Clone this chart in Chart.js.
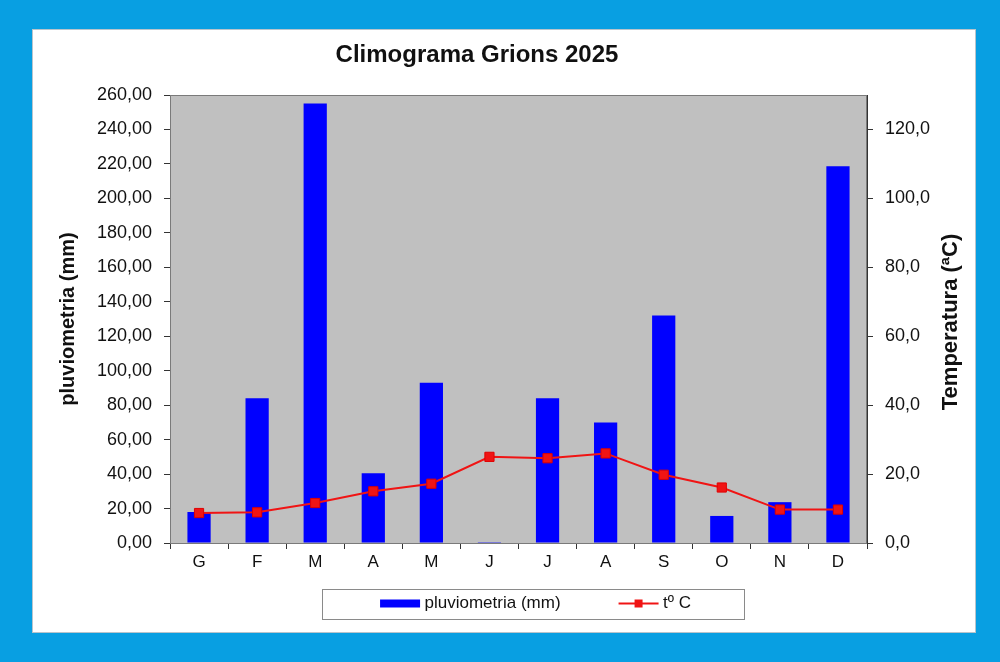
<!DOCTYPE html>
<html>
<head>
<meta charset="utf-8">
<script src="https://cdn.jsdelivr.net/npm/chart.js@4/dist/chart.umd.min.js"></script>
<style>
  html, body { margin: 0; padding: 0; }
  body { width: 1000px; height: 662px; background: #089fe2; position: relative; overflow: hidden; }
  #panel { position: absolute; left: 33px; top: 30px; width: 942px; height: 602px; background: #fff;
           box-shadow: 0 0 0 1px #b8c4cc; }
</style>
</head>
<body>
<div id="panel"><canvas id="clima"></canvas></div>
<script>
// dades
var months = ['G', 'F', 'M', 'A', 'M', 'J', 'J', 'A', 'S', 'O', 'N', 'D'];
var rain = [18.0, 84.0, 255.0, 40.5, 93.0, 0.5, 84.0, 70.0, 132.0, 15.7, 23.7, 218.7];
var temp = [8.7, 8.9, 11.6, 15.0, 17.2, 25.0, 24.6, 26.0, 19.8, 16.1, 9.7, 9.7];
var rainLabel = 'pluviometria (mm)';
var tempLabel = 'tº C';
var rightTitle = 'Temperatura (ªC)';

var FONT = '"Liberation Sans", Arial, sans-serif';
Chart.defaults.font.family = FONT;
Chart.defaults.color = '#111';

// legend icons (drawn near the right edge so they sit close to the text)
function makeIcon(draw) {
    var c = document.createElement('canvas');
    c.width = 96; c.height = 14;
    draw(c.getContext('2d'));
    return c;
}
var barIcon = makeIcon(function(g) {
    g.fillStyle = '#0000ff';
    g.fillRect(54, 3, 40, 8);
});
var lineIcon = makeIcon(function(g) {
    g.strokeStyle = '#f01414'; g.lineWidth = 2;
    g.beginPath(); g.moveTo(54, 7); g.lineTo(94, 7); g.stroke();
    g.fillStyle = '#f01414';
    g.fillRect(70, 3, 8, 8);
});

var framePlugin = {
    id: 'frame',
    afterLayout: function(chart) {
        chart.legend.left += 7.5; chart.legend.right += 7.5;
        chart.titleBlock.left -= 27; chart.titleBlock.right -= 27;
    },
    beforeDatasetsDraw: function(chart) {
        var a = chart.chartArea, ctx = chart.ctx;
        ctx.save();
        ctx.fillStyle = '#c0c0c0';
        ctx.fillRect(a.left, a.top, a.right - a.left, a.bottom - a.top);
        ctx.strokeStyle = '#7a7a7a'; ctx.lineWidth = 1;
        ctx.strokeRect(a.left + 0.5, a.top + 0.5, a.right - a.left - 1, a.bottom - a.top);
        ctx.restore();
    },
    afterDraw: function(chart) {
        var ctx = chart.ctx, a = chart.chartArea;
        // right axis title, read bottom to top
        ctx.save();
        ctx.translate(a.right + 84, (a.top + a.bottom) / 2 + 3);
        ctx.rotate(-Math.PI / 2);
        ctx.font = 'bold 22px ' + FONT;
        ctx.fillStyle = '#111';
        ctx.textAlign = 'center'; ctx.textBaseline = 'middle';
        ctx.fillText(rightTitle, 0, 0);
        ctx.restore();
        // legend frame
        var hb = chart.legend.legendHitBoxes;
        if (hb && hb.length) {
            var l = hb[0].left - 10;
            var r = hb[hb.length - 1].left + hb[hb.length - 1].width + 53;
            var cy = hb[0].top + hb[0].height / 2;
            ctx.save();
            ctx.strokeStyle = '#8a8a8a'; ctx.lineWidth = 1;
            ctx.strokeRect(Math.round(l) + 0.5, Math.round(cy - 15) + 0.5, Math.round(r - l), 30);
            ctx.restore();
        }
    }
};

var ctx = document.getElementById('clima').getContext('2d');
var climaChart = new Chart(ctx, {
    type: 'bar',
    data: {
        labels: months,
        datasets: [
            {
                type: 'line',
                label: tempLabel,
                data: temp,
                yAxisID: 'y1',
                borderColor: '#f01414',
                backgroundColor: '#f01414',
                borderWidth: 2,
                pointStyle: 'rect',
                pointRadius: 6.5,
                pointBorderWidth: 1,
                pointBackgroundColor: '#f01414',
                pointBorderColor: '#e00000',
                tension: 0,
                order: 0
            },
            {
                label: rainLabel,
                data: rain,
                yAxisID: 'y',
                backgroundColor: '#0000ff',
                barPercentage: 0.4,
                categoryPercentage: 1,
                order: 1
            }
        ]
    },
    options: {
        responsive: true,
        maintainAspectRatio: false,
        animation: false,
        layout: { padding: { left: 0, right: 0, top: 0, bottom: 10 } },
        plugins: {
            title: {
                display: true,
                text: 'Climograma Grions 2025',
                color: '#111',
                font: { size: 24, weight: 'bold' },
                padding: { top: 10.6, bottom: 25.6 }
            },
            legend: {
                position: 'bottom',
                reverse: true,
                labels: {
                    usePointStyle: true,
                    pointStyleWidth: 84,
                    padding: 10,
                    color: '#111',
                    font: { size: 17 },
                    generateLabels: function(chart) {
                        var items = Chart.defaults.plugins.legend.labels.generateLabels(chart);
                        items.forEach(function(it) {
                            it.pointStyle = it.datasetIndex === 0 ? lineIcon : barIcon;
                        });
                        return items;
                    }
                }
            },
            tooltip: { enabled: false }
        },
        scales: {
            x: {
                grid: { display: true, drawOnChartArea: false, drawTicks: true, tickLength: 6, color: '#333', offset: true },
                border: { color: '#333' },
                ticks: { font: { size: 17 }, color: '#111', padding: 3 },
                afterFit: function(s) { s.height = 42; }
            },
            y: {
                position: 'left',
                min: 0, max: 260,
                ticks: {
                    stepSize: 20,
                    font: { size: 18 },
                    color: '#111',
                    padding: 12,
                    callback: function(v) { return v.toFixed(2).replace('.', ','); }
                },
                grid: { drawOnChartArea: false, tickLength: 6, color: '#333' },
                border: { color: '#333' },
                title: {
                    display: true,
                    text: rainLabel,
                    color: '#111',
                    font: { size: 20, weight: 'bold' },
                    padding: { top: 23, bottom: 0 }
                },
                afterFit: function(s) { s.width = 137; }
            },
            y1: {
                position: 'right',
                min: 0, max: 130,
                ticks: {
                    stepSize: 20,
                    font: { size: 18 },
                    color: '#111',
                    padding: 12,
                    callback: function(v) { return v.toFixed(1).replace('.', ','); }
                },
                afterBuildTicks: function(s) {
                    s.ticks = s.ticks.filter(function(t) { return t.value <= 120; });
                },
                grid: { drawOnChartArea: false, tickLength: 6, color: '#333' },
                border: { color: '#333' },
                afterFit: function(s) { s.width = 108; }
            }
        }
    },
    plugins: [framePlugin]
});
</script>
</body>
</html>
